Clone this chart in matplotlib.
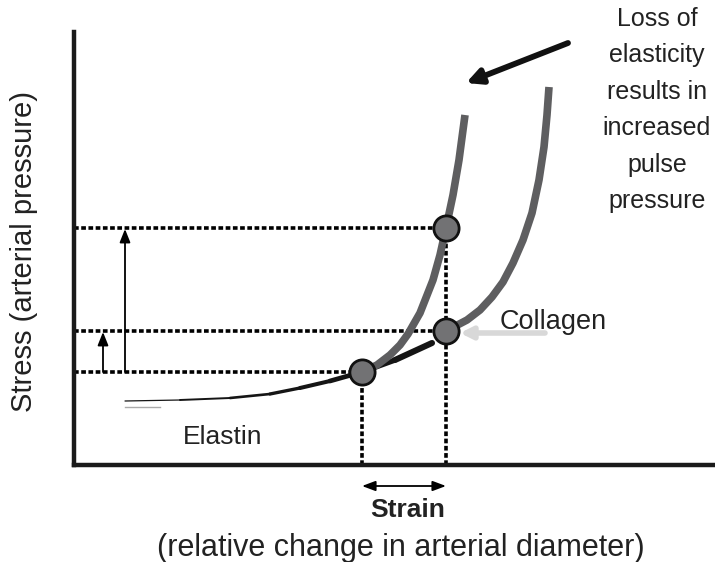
import numpy as np
import matplotlib
matplotlib.use("Agg")
import matplotlib.pyplot as plt
from matplotlib.collections import LineCollection

plt.rcParams['font.family'] = ['Liberation Sans', 'DejaVu Sans']

# strain / stress in arbitrary units
elastin_x = [5.1, 10.6, 15.6, 19.6, 22.6, 25.6, 28.8, 32.1, 35.8]
elastin_y = [6.4, 6.5, 6.7, 7.1, 7.7, 8.4, 9.3, 10.5, 12.2]

stiff_x = [28.8, 30.3, 31.6, 32.6, 33.4, 34.6, 35.9, 36.6, 37.2, 37.9, 38.5, 39.1]
stiff_y = [9.3, 10.0, 11.0, 12.0, 13.1, 15.2, 18.5, 21.0, 23.7, 27.0, 30.5, 35.0]

collagen_x = [37.2, 39.3, 40.6, 41.8, 42.9, 43.9, 44.9, 45.8, 46.5, 47.0, 47.3, 47.5]
collagen_y = [13.4, 14.5, 15.5, 16.8, 18.3, 20.2, 22.5, 25.2, 28.5, 31.8, 35.0, 37.8]

# operating points
pts_x = [28.8, 37.2, 37.2]
pts_y = [9.3, 23.7, 13.4]
stress_levels = [9.3, 13.4, 23.7]
strain_levels = [28.8, 37.2]

fig = plt.figure(figsize=(7.15, 5.62), dpi=100)
ax = fig.add_axes([74/715, 97/562, 641/715, 433/562])
ax.set_xlim(0, 64.1)
ax.set_ylim(0, 43.3)
for s in ['top', 'right']:
    ax.spines[s].set_visible(False)
for s in ['left', 'bottom']:
    ax.spines[s].set_linewidth(3.2)
    ax.spines[s].set_color('#1a1a1a')
ax.set_xticks([])
ax.set_yticks([])

dot = (0, (1.3, 0.7))
# dotted guide lines
ax.plot([0, strain_levels[0]], [stress_levels[0]] * 2, color='k', lw=2.6, ls=dot)
ax.plot([0, strain_levels[1]], [stress_levels[1]] * 2, color='k', lw=2.6, ls=dot)
ax.plot([0, strain_levels[1]], [stress_levels[2]] * 2, color='k', lw=2.6, ls=dot)
ax.plot([strain_levels[0]] * 2, [0, stress_levels[0]], color='k', lw=2.6, ls=dot)
ax.plot([strain_levels[1]] * 2, [0, stress_levels[2]], color='k', lw=2.6, ls=dot)

# pulse pressure arrows
head = '-|>,head_length=0.8,head_width=0.32'
ax.annotate('', xy=(5.1, stress_levels[2] - 0.1), xytext=(5.1, stress_levels[0]),
            arrowprops=dict(arrowstyle=head, color='k', lw=1.3, shrinkA=0, shrinkB=0))
ax.annotate('', xy=(2.9, stress_levels[1] - 0.1), xytext=(2.9, stress_levels[0]),
            arrowprops=dict(arrowstyle=head, color='k', lw=1.3, shrinkA=0, shrinkB=0))

# elastin: tapered black line
ex = np.array(elastin_x)
ey = np.array(elastin_y)
segs = [[(ex[i], ey[i]), (ex[i + 1], ey[i + 1])] for i in range(len(ex) - 1)]
widths = np.linspace(0.9, 4.4, len(segs))
lc = LineCollection(segs, linewidths=widths, colors='#151515', capstyle='round', joinstyle='round')
ax.add_collection(lc)
ax.plot([5.1, 8.6], [5.8, 5.8], color='#aaaaaa', lw=1)

# collagen curves
ax.plot(stiff_x, stiff_y, color='#5e5e60', lw=5.5, solid_capstyle='butt', solid_joinstyle='round')
ax.plot(collagen_x, collagen_y, color='#5e5e60', lw=5.5, solid_capstyle='butt', solid_joinstyle='round')

ax.scatter(pts_x, pts_y, s=330, color='#727274', edgecolor='#111111', linewidth=2, zorder=5)

# pointer arrows
ax.annotate('', xy=(39.2, 38.2), xytext=(49.4, 42.2),
            arrowprops=dict(arrowstyle='-|>,head_length=0.9,head_width=0.45', color='#111111', lw=4.2,
                            shrinkA=0, shrinkB=0))
ax.annotate('', xy=(38.6, 13.2), xytext=(47.1, 13.2),
            arrowprops=dict(arrowstyle='-|>,head_length=0.7,head_width=0.35', color='#d8d8d8', lw=4,
                            shrinkA=0, shrinkB=0))

# strain double arrow
ax.annotate('', xy=(strain_levels[0], -2.1), xytext=(strain_levels[1], -2.1),
            arrowprops=dict(arrowstyle='<|-|>,head_length=0.8,head_width=0.3', color='k', lw=1.3,
                            shrinkA=0, shrinkB=0),
            annotation_clip=False)

ax.text(42.6, 14.3, 'Collagen', fontsize=19.5, color='#222222', va='center', ha='left')
ax.text(10.9, 2.8, 'Elastin', fontsize=19, color='#222222', va='center', ha='left')
ax.text(58.3, 35.5, 'Loss of\nelasticity\nresults in\nincreased\npulse\npressure',
        fontsize=18, color='#222222', ha='center', va='center', linespacing=1.65)

fig.text(408/715, 1 - 510/562, 'Strain', fontsize=19, fontweight='bold', ha='center', va='center', color='#222222')
fig.text(401/715, 1 - 548/562, '(relative change in arterial diameter)', fontsize=22,
         ha='center', va='center', color='#222222')
fig.text(24/715, 1 - 252/562, 'Stress (arterial pressure)', fontsize=21, rotation=90,
         ha='center', va='center', color='#222222')

fig.savefig('out.png', dpi=100)
